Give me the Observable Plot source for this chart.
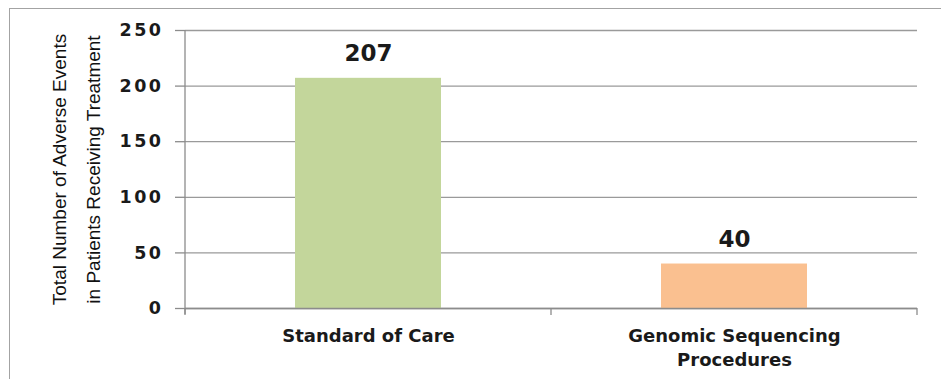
<!DOCTYPE html>
<html>
<head>
<meta charset="utf-8">
<script src="https://cdn.jsdelivr.net/npm/d3@7"></script>
<script src="https://cdn.jsdelivr.net/npm/@observablehq/plot@0.6"></script>
<style>
  html, body { margin: 0; padding: 0; background: #ffffff; }
  #wrap { position: relative; width: 941px; height: 379px; overflow: hidden; background: #ffffff; }
  #border { position: absolute; left: 9px; top: 8px; width: 1200px; height: 1200px; border: 1.5px solid #a3a3a3; box-sizing: border-box; }
  #chart { position: absolute; left: 0; top: 0; }
  #chart svg { overflow: visible; background: transparent; }
  g[aria-label="y-axis tick label"] text { letter-spacing: 2.5px; font-weight: bold; font-size: 17.5px; fill: #1a1a1a; }
  g[aria-label="bar-value"] text { letter-spacing: 2.5px; }
  g[aria-label="category-label"] text { letter-spacing: 1.1px; }
  g[aria-label="y-title"] text { stroke: #111; stroke-width: 0.45px; }
</style>
</head>
<body>
<div id="wrap">
  <div id="border"></div>
  <div id="chart"></div>
</div>
<script>
// ---- data ----
const categories = ["Standard of Care", "Genomic Sequencing Procedures"];
const categoryLabels = ["Standard of Care", "Genomic Sequencing\nProcedures"];
const adverseEvents = [207, 40];
const yTicks = [0, 50, 100, 150, 200, 250];
const yTitle = "Total Number of Adverse Events\nin Patients Receiving Treatment";

const barColors = ["#c3d69b", "#fac090"];

const rows = categories.map((c, i) => ({category: c, label: categoryLabels[i], value: adverseEvents[i]}));

// axis line + category boundary ticks
function boundaryTicks(index, scales, values, dimensions) {
  const {width, height, marginLeft, marginRight, marginTop, marginBottom} = dimensions;
  const n = categories.length;
  const w = width - marginLeft - marginRight;
  const y0 = height - marginBottom;
  const g = d3.create("svg:g").attr("stroke", "#8c8c8c").attr("stroke-width", 1.3);
  g.append("line").attr("x1", marginLeft).attr("x2", marginLeft).attr("y1", marginTop).attr("y2", y0 + 6);
  for (let i = 0; i <= n; i++) {
    const xx = marginLeft + (i * w) / n;
    g.append("line").attr("x1", xx).attr("x2", xx).attr("y1", y0).attr("y2", y0 + 7);
  }
  return g.node();
}

const chart = Plot.plot({
  width: 941,
  height: 379,
  marginLeft: 185,
  marginRight: 24,
  marginTop: 30,
  marginBottom: 71,
  style: {background: "transparent", fontFamily: "'DejaVu Sans', sans-serif", color: "#1a1a1a"},
  x: {domain: categories, paddingInner: 0.6, paddingOuter: 0.3, axis: null},
  y: {domain: [0, 250], axis: null},
  color: {domain: categories, range: barColors},
  marks: [
    Plot.gridY({ticks: yTicks, stroke: "#9a9a9a", strokeOpacity: 1, strokeWidth: 1.3}),
    Plot.axisY({ticks: yTicks, tickSize: 10, tickPadding: 12, label: null, stroke: "#8c8c8c", strokeWidth: 1.3, fill: "#1a1a1a", fontSize: 17.5, fontWeight: "bold", tickFormat: d => String(d)}),
    Plot.barY(rows, {x: "category", y: "value", fill: "category"}),
    Plot.ruleY([0], {stroke: "#8c8c8c", strokeWidth: 1.3}),
    boundaryTicks,
    Plot.text(rows, {x: "category", y: "value", text: d => String(d.value), dy: -17, lineAnchor: "bottom", fontSize: 23, fontWeight: "bold", fill: "#1a1a1a", ariaLabel: "bar-value"}),
    Plot.text(rows, {x: "category", frameAnchor: "bottom", text: "label", dy: 16, lineAnchor: "top", lineHeight: 1.333, fontSize: 18, fontWeight: "bold", fill: "#1a1a1a", ariaLabel: "category-label"}),
    Plot.text([yTitle], {frameAnchor: "left", text: d => d, rotate: -90, dx: -113, textAnchor: "middle", lineAnchor: "middle", lineHeight: 1.79, fontSize: 19, fontFamily: "'Liberation Sans', Arial, sans-serif", fill: "#111", ariaLabel: "y-title"})
  ]
});

document.getElementById("chart").appendChild(chart);
</script>
</body>
</html>
